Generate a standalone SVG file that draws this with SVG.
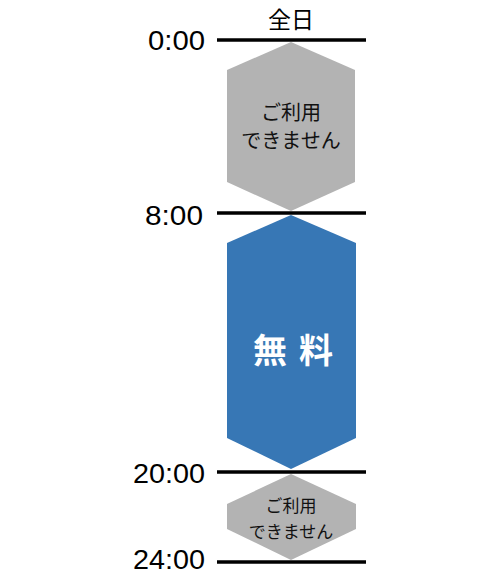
<svg xmlns="http://www.w3.org/2000/svg" width="500" height="575" viewBox="0 0 500 575">
<style>
.t{font-family:"Noto Sans CJK JP","Noto Sans",sans-serif;fill:#000}
.time{font-family:"Liberation Sans",Arial,sans-serif;font-size:27px;text-anchor:end;fill:#000}
.gray{fill:#b3b3b3}
.blue{fill:#3777b5}
.lbl{font-family:"Noto Sans CJK JP",sans-serif;text-anchor:middle;fill:#111}
.big{font-family:"Noto Sans CJK JP",sans-serif;font-size:34px;font-weight:bold;fill:#fff;text-anchor:middle}
.axis line{stroke:#000;stroke-width:3.5}
</style>
<rect width="500" height="575" fill="#fff"/>
<text class="t" x="291" y="27.5" font-size="23" text-anchor="middle">全日</text>
<g id="axis" class="axis">
<line x1="217" y1="40" x2="366" y2="40"/>
<line x1="217" y1="213" x2="366" y2="213"/>
<line x1="217" y1="472" x2="366" y2="472"/>
<line x1="217" y1="562" x2="366" y2="562"/>
</g>
<g id="times">
<text class="time" x="205" y="50" textLength="57" lengthAdjust="spacingAndGlyphs">0:00</text>
<text class="time" x="203" y="225" textLength="58" lengthAdjust="spacingAndGlyphs">8:00</text>
<text class="time" x="205" y="483" textLength="72" lengthAdjust="spacingAndGlyphs">20:00</text>
<text class="time" x="205" y="569" font-size="26" textLength="72" lengthAdjust="spacingAndGlyphs">24:00</text>
</g>
<g id="n1">
<polygon class="gray" points="291,42 355,70 355,182 291,211 227,182 227,70"/>
<text class="lbl" x="291" y="120" font-size="20">ご利用</text>
<text class="lbl" x="291" y="148" font-size="20">できません</text>
</g>
<g id="n2">
<polygon class="blue" points="291,215 356,243 356,438 291,469 227,438 227,243"/>
<text class="big" x="270" y="363">無</text>
<text class="big" x="316" y="363">料</text>
</g>
<g id="n3">
<polygon class="gray" points="291,474 356,504 356,529 291,560 227,529 227,504"/>
<text class="lbl" x="291" y="512" font-size="17">ご利用</text>
<text class="lbl" x="291" y="538" font-size="17">できません</text>
</g>
</svg>
